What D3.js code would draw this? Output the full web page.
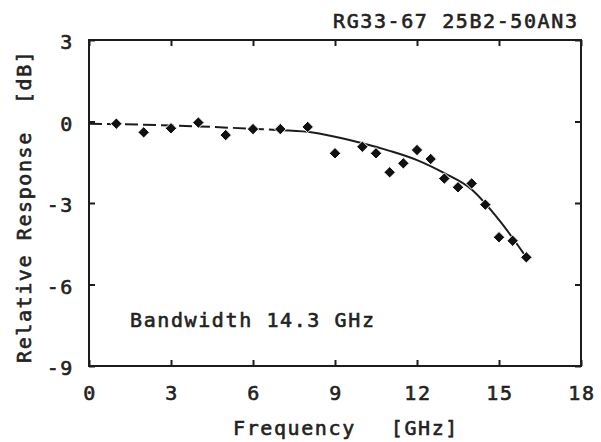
<!DOCTYPE html>
<html>
<head>
<meta charset="utf-8">
<script src="https://cdn.jsdelivr.net/npm/d3@7"></script>
<style>
  body { margin: 0; background: #fff; }
  svg { display: block; }
  text { font-family: "DejaVu Sans Mono", monospace; font-size: 20px; letter-spacing: 1.6px; fill: #222; stroke: #222; stroke-width: 0.6px; }
</style>
</head>
<body>
<svg id="chart" width="601" height="442"></svg>
<script>
// measured points
var freq = [1, 2, 3, 4, 5, 6, 7, 8, 9, 10, 10.5, 11, 11.5, 12, 12.5, 13, 13.5, 14, 14.5, 15, 15.5, 16];
var resp = [-0.08, -0.4, -0.25, -0.04, -0.5, -0.28, -0.28, -0.2, -1.17, -0.93, -1.17, -1.87, -1.54, -1.05, -1.38, -2.1, -2.42, -2.28, -3.06, -4.26, -4.39, -5.0];

// fitted curve
var fitFreq = [0, 2, 4, 6, 7, 8, 9, 10, 11, 12, 13, 14, 15, 16];
var fitResp = [-0.08, -0.12, -0.18, -0.27, -0.32, -0.38, -0.56, -0.8, -1.08, -1.42, -1.9, -2.5, -3.62, -5.0];

var xTicks = [0, 3, 6, 9, 12, 15, 18];
var yTicks = [3, 0, -3, -6, -9];

var dashEnd = 7; // curve is drawn dashed up to here

var svg = d3.select("#chart");
var pLeft = 89, pRight = 581, pTop = 40, pBottom = 366;

var x = d3.scaleLinear().domain([0, 18]).range([pLeft, pRight]);
var y = d3.scaleLinear().domain([-9, 3]).range([pBottom, pTop]);

// frame
svg.append("rect")
    .attr("x", pLeft).attr("y", pTop)
    .attr("width", pRight - pLeft).attr("height", pBottom - pTop)
    .attr("fill", "none").attr("stroke", "#1c1c1c").attr("stroke-width", 2);

// inward ticks on all four sides
var tickLen = 6;
svg.append("g").call(d3.axisBottom(x).tickValues(xTicks).tickSize(-tickLen).tickFormat(""))
    .attr("transform", "translate(0," + pBottom + ")");
svg.append("g").call(d3.axisTop(x).tickValues(xTicks).tickSize(-tickLen).tickFormat(""))
    .attr("transform", "translate(0," + pTop + ")");
svg.append("g").call(d3.axisLeft(y).tickValues(yTicks).tickSize(-tickLen).tickFormat(""))
    .attr("transform", "translate(" + pLeft + ",0)");
svg.append("g").call(d3.axisRight(y).tickValues(yTicks).tickSize(-tickLen).tickFormat(""))
    .attr("transform", "translate(" + pRight + ",0)");
svg.selectAll(".domain").remove();
svg.selectAll(".tick line").attr("stroke", "#1c1c1c").attr("stroke-width", 2);

// tick labels
svg.append("g").selectAll("text").data(xTicks).enter().append("text")
    .attr("x", function(d) { return x(d) + 1; })
    .attr("y", 400)
    .attr("text-anchor", "middle")
    .text(function(d) { return d; });

svg.append("g").selectAll("text").data(yTicks).enter().append("text")
    .attr("x", 74)
    .attr("y", function(d) { return y(d) + 9; })
    .attr("text-anchor", "end")
    .text(function(d) { return d; });

// fitted curve
var fit = fitFreq.map(function(f, i) { return [f, fitResp[i]]; });
var line = d3.line()
    .x(function(d) { return x(d[0]); })
    .y(function(d) { return y(d[1]); })
    .curve(d3.curveMonotoneX);

svg.append("path")
    .attr("d", line(fit.filter(function(d) { return d[0] <= dashEnd; })))
    .attr("fill", "none").attr("stroke", "#1c1c1c").attr("stroke-width", 2)
    .attr("stroke-dasharray", "13,5");
svg.append("path")
    .attr("d", line(fit.filter(function(d) { return d[0] >= dashEnd; })))
    .attr("fill", "none").attr("stroke", "#1c1c1c").attr("stroke-width", 2);

// data diamonds
var diamond = d3.symbol().type(d3.symbolDiamond2).size(84);
svg.append("g").selectAll("path").data(freq).enter().append("path")
    .attr("d", diamond)
    .attr("transform", function(d, i) { return "translate(" + x(d) + "," + y(resp[i]) + ")"; })
    .attr("fill", "#111")
    .attr("stroke", "#fff").attr("stroke-width", 1);

// texts
svg.append("text").attr("x", 333).attr("y", 28).text("RG33-67 25B2-50AN3");
svg.append("text").attr("x", 130).attr("y", 327).text("Bandwidth 14.3 GHz");

var xl = svg.append("text").attr("x", 233).attr("y", 435).text("Frequency");
xl.append("tspan").attr("dx", 35).text("[GHz]");

var yl = svg.append("text").attr("transform", "translate(31,363) rotate(-90)").text("Relative Response");
yl.append("tspan").attr("dx", 27).text("[dB]");
</script>
</body>
</html>
